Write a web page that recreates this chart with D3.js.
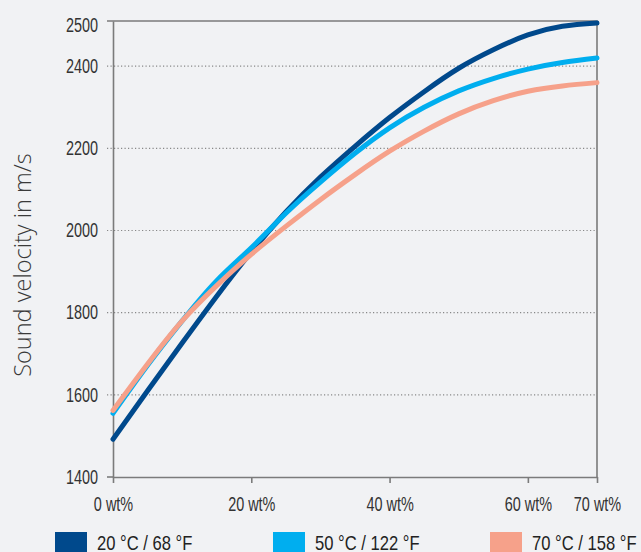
<!DOCTYPE html>
<html>
<head>
<meta charset="utf-8">
<script src="https://cdn.jsdelivr.net/npm/d3@7"></script>
<style>
  body { margin: 0; background: #f1f2f4; }
  svg { display: block; }
  .tick text { font-family: "Liberation Sans", Arial, sans-serif; fill: #333; }
</style>
</head>
<body>
<div id="viz"></div>
<script>
// concentration in wt%
var wt = [0, 5, 10, 15, 20, 25, 30, 35, 40, 45, 50, 55, 60, 65, 70];
// sound velocity in m/s, one list per temperature
var v20 = [1492, 1610, 1726, 1840, 1948, 2045, 2130, 2205, 2275, 2338, 2395, 2440, 2476, 2497, 2505];
var v50 = [1555, 1672, 1780, 1878, 1958, 2042, 2118, 2188, 2250, 2300, 2340, 2370, 2393, 2409, 2420];
var v70 = [1562, 1675, 1780, 1866, 1942, 2010, 2075, 2136, 2193, 2242, 2284, 2316, 2339, 2352, 2360];
var seriesNames = ['20 °C / 68 °F', '50 °C / 122 °F', '70 °C / 158 °F'];
var colors = ['#00498c', '#00aeef', '#f6a18a'];
var xTicks = [0, 20, 40, 60, 70];
var yTicks = [1400, 1600, 1800, 2000, 2200, 2400, 2500];

var chart = {width: 641, height: 552, left: 113, right: 597, top: 21, bottom: 477};

// squeeze text horizontally, the original uses a condensed face
function condense(sel, f) {
  sel.each(function() {
    var w = this.getComputedTextLength();
    d3.select(this)
      .attr('textLength', w * f)
      .attr('lengthAdjust', 'spacingAndGlyphs');
  });
}

var svg = d3.select('#viz')
  .append('svg')
  .attr('width', chart.width)
  .attr('height', chart.height);

var x = d3.scaleLinear()
  .domain([0, 70])
  .range([chart.left, chart.right]);

var y = d3.scaleLinear()
  .domain([1400, 2510])
  .range([chart.bottom, chart.top]);

// dotted gridlines
svg.append('g')
  .selectAll('line')
  .data(yTicks.filter((d) => d > 1400 && d < 2500))
  .enter()
  .append('line')
  .attr('x1', chart.left - 6)
  .attr('x2', chart.right)
  .attr('y1', (d) => y(d))
  .attr('y2', (d) => y(d))
  .attr('stroke', '#888')
  .attr('stroke-width', 1.2)
  .attr('stroke-dasharray', '1.2,2.3');

// frame
svg.append('path')
  .attr('d', 'M' + (chart.left - 6) + ',' + chart.top + 'H' + chart.right + 'V' + chart.bottom)
  .attr('stroke', '#7b7b7b')
  .attr('stroke-width', 1.6)
  .attr('fill', 'none');

var yAxis = d3.axisLeft(y)
  .tickValues(yTicks)
  .tickSize(0)
  .tickPadding(15)
  .tickFormat(d3.format('d'));

svg.append('g')
  .attr('transform', 'translate(' + chart.left + ',0)')
  .call(yAxis)
  .call((g) => g.select('.domain').attr('stroke', '#7b7b7b').attr('stroke-width', 1.6))
  .selectAll('text')
  .attr('font-size', 19.5)
  .call(condense, 0.74);

// short tick for 1400
svg.append('line')
  .attr('x1', chart.left - 6)
  .attr('x2', chart.left)
  .attr('y1', y(1400))
  .attr('y2', y(1400))
  .attr('stroke', '#7b7b7b')
  .attr('stroke-width', 1.6);

var xAxis = d3.axisBottom(x)
  .tickValues(xTicks)
  .tickSize(6)
  .tickSizeOuter(0)
  .tickPadding(14)
  .tickFormat((d) => d + ' wt%');

svg.append('g')
  .attr('transform', 'translate(0,' + chart.bottom + ')')
  .call(xAxis)
  .call((g) => g.select('.domain').attr('stroke', '#7b7b7b').attr('stroke-width', 1.6))
  .call((g) => g.selectAll('.tick line').attr('stroke', '#7b7b7b').attr('stroke-width', 1.6))
  .selectAll('text')
  .attr('font-size', 19.5)
  .call(condense, 0.74);

// curves
var line = d3.line()
  .x((d) => x(d[0]))
  .y((d) => y(d[1]))
  .curve(d3.curveNatural);

[v20, v50, v70].forEach(function(vals, i) {
  svg.append('path')
    .datum(wt.map((w, j) => [w, vals[j]]))
    .attr('fill', 'none')
    .attr('stroke', colors[i])
    .attr('stroke-width', 5)
    .attr('stroke-linecap', 'round')
    .attr('d', line);
});

// y title
svg.append('text')
  .attr('transform', 'translate(31,265) rotate(-90)')
  .attr('text-anchor', 'middle')
  .attr('font-family', '"Open Sans", sans-serif')
  .attr('font-weight', 300)
  .attr('font-size', 23.5)
  .attr('fill', '#3a3a3a')
  .text('Sound velocity in m/s');

// legend
var legendX = [55, 273, 490];
var legend = svg.append('g')
  .attr('id', 'legend');

legend.selectAll('rect')
  .data(seriesNames)
  .enter()
  .append('rect')
  .attr('x', (d, i) => legendX[i])
  .attr('y', 532)
  .attr('width', 32)
  .attr('height', 22)
  .attr('fill', (d, i) => colors[i]);

legend.selectAll('text')
  .data(seriesNames)
  .enter()
  .append('text')
  .attr('x', (d, i) => legendX[i] + 42)
  .attr('y', 550)
  .attr('font-family', '"Liberation Sans", Arial, sans-serif')
  .attr('font-size', 21)
  .attr('fill', '#222')
  .text((d) => d)
  .call(condense, 0.79);
</script>
</body>
</html>
